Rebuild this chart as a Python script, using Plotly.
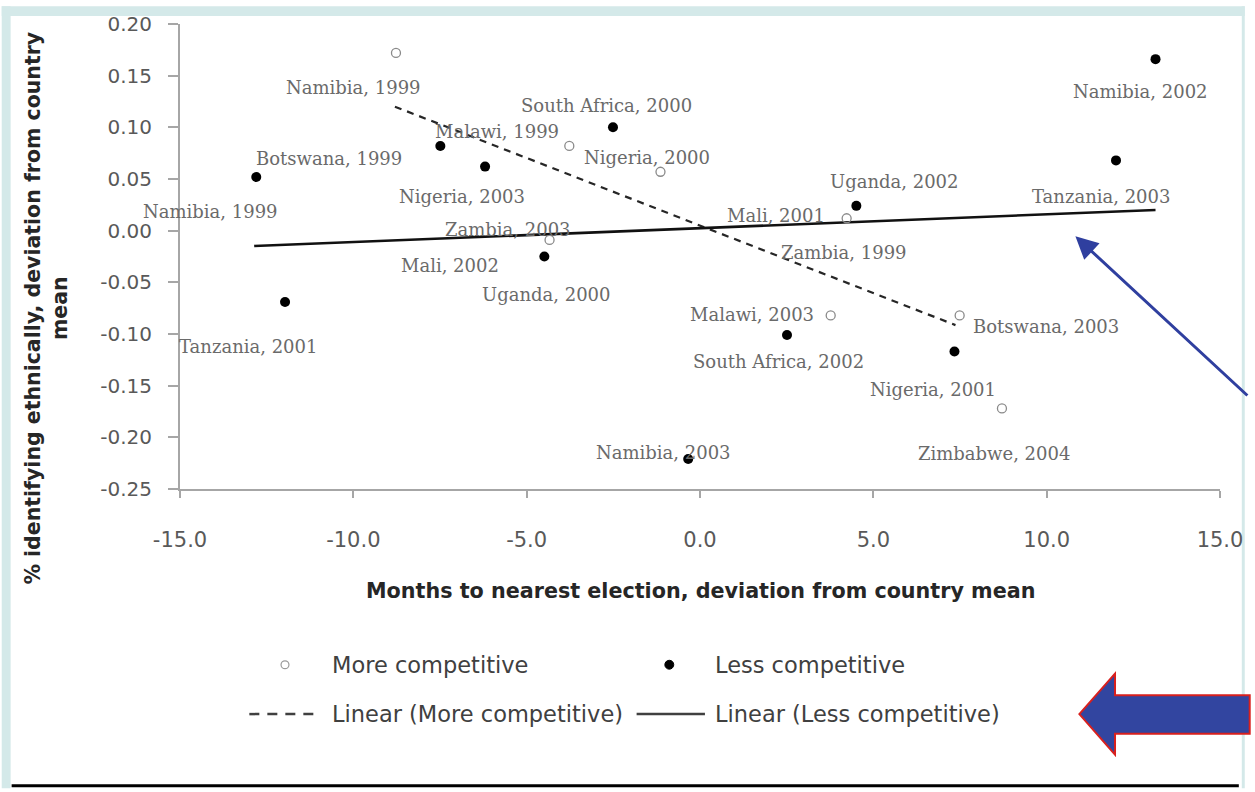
import plotly.graph_objects as go

# ---------------- data ----------------
more_x = [-8.77, -3.77, -1.14, -4.34, 4.23, 3.77, 7.49, 8.71]
more_y = [0.172, 0.082, 0.057, -0.009, 0.012, -0.082, -0.082, -0.172]

less_x = [-12.8, -11.97, -7.49, -6.2, -2.51, -4.49, 4.51, 13.14, 12.0, 2.51, 7.34, -0.34]
less_y = [0.052, -0.069, 0.082, 0.062, 0.100, -0.025, 0.024, 0.166, 0.068, -0.101, -0.117, -0.221]

trend_more_x = [-8.8, 7.37]
trend_more_y = [0.120, -0.0914]
trend_less_x = [-12.86, 13.14]
trend_less_y = [-0.0148, 0.020]

label_text = ["Namibia, 1999", "South Africa, 2000", "Malawi, 1999", "Botswana, 1999",
              "Nigeria, 2000", "Nigeria, 2003", "Namibia, 1999", "Zambia, 2003",
              "Mali, 2002", "Uganda, 2000", "Tanzania, 2001", "Namibia, 2002",
              "Uganda, 2002", "Tanzania, 2003", "Mali, 2001", "Zambia, 1999",
              "Malawi, 2003", "Botswana, 2003", "South Africa, 2002", "Nigeria, 2001",
              "Zimbabwe, 2004", "Namibia, 2003"]
label_x = [-10.0, -2.71, -5.86, -10.69, -1.54, -6.86, -14.11, -5.54, -7.2, -4.43, -13.03,
           12.71, 5.6, 11.57, 2.2, 4.14, 1.49, 9.97, 2.26, 6.71, 8.49, -1.06]
label_y = [0.139, 0.121, 0.096, 0.070, 0.071, 0.033, 0.019, 0.0014, -0.034, -0.062, -0.112,
           0.135, 0.048, 0.033, 0.0148, -0.0215, -0.081, -0.093, -0.127, -0.154, -0.216, -0.215]

x_ticks = [-15, -10, -5, 0, 5, 10, 15]
x_ticktext = ["-15.0", "-10.0", "-5.0", "0.0", "5.0", "10.0", "15.0"]
y_ticks = [0.20, 0.15, 0.10, 0.05, 0.00, -0.05, -0.10, -0.15, -0.20, -0.25]
y_ticktext = ["0.20", "0.15", "0.10", "0.05", "0.00", "-0.05", "-0.10", "-0.15", "-0.20", "-0.25"]

legend_names = ["More competitive", "Less competitive",
                "Linear (More competitive)", "Linear (Less competitive)"]

# ---------------- layout geometry ----------------
W, H = 1255, 792
ML, MR, MT, MB = 180, 25, 18, 303
PW, PH = W - ML - MR, H - MT - MB


def px(x):
    return (x - ML) / PW


def py(y):
    return (H - MB - y) / PH


TEAL = "#d4e9e9"
AXIS = "#a6a6a6"

fig = go.Figure()

fig.add_trace(go.Scatter(x=trend_more_x, y=trend_more_y, mode="lines", name=legend_names[2],
                         line=dict(color="#262626", width=2.2, dash="7px,6px"), showlegend=False))
fig.add_trace(go.Scatter(x=trend_less_x, y=trend_less_y, mode="lines", name=legend_names[3],
                         line=dict(color="#111111", width=2.6), showlegend=False))
fig.add_trace(go.Scatter(x=more_x, y=more_y, mode="markers", name=legend_names[0],
                         marker=dict(symbol="circle-open", size=9, color="#8a8a8a",
                                     line=dict(width=1.3, color="#8a8a8a")), showlegend=False))
fig.add_trace(go.Scatter(x=less_x, y=less_y, mode="markers", name=legend_names[1],
                         marker=dict(symbol="circle", size=10, color="#000000"), showlegend=False))

annotations = []
for t, lx, ly in zip(label_text, label_x, label_y):
    annotations.append(dict(x=lx, y=ly, xref="x", yref="y", text=t, showarrow=False,
                            font=dict(family="DejaVu Serif", size=18, color="#6a6a6a"),
                            xanchor="center", yanchor="middle"))

# axis titles
annotations.append(dict(x=px(706), y=py(592), xref="paper", yref="paper",
                        text="<b>Months to nearest election, deviation from country mean</b>",
                        showarrow=False, font=dict(family="DejaVu Sans", size=20.7, color="#262626"),
                        xanchor="center", yanchor="middle"))
annotations.append(dict(x=px(45), y=py(306), xref="paper", yref="paper",
                        text="<b>% identifying ethnically, deviation from country<br>mean</b>",
                        showarrow=False, textangle=-90,
                        font=dict(family="DejaVu Sans", size=20.5, color="#262626"),
                        xanchor="center", yanchor="middle"))

# legend texts
leg_font = dict(family="DejaVu Sans", size=22.5, color="#404040")
for name, lx, ly in [(legend_names[0], 331, 667), (legend_names[1], 718, 667),
                     (legend_names[2], 331, 717), (legend_names[3], 718, 717)]:
    annotations.append(dict(x=px(lx), y=py(ly), xref="paper", yref="paper", text=name,
                            showarrow=False, font=leg_font, xanchor="left", yanchor="middle"))

# blue pointer arrow
annotations.append(dict(x=px(1084), y=py(233), xref="paper", yref="paper", text=" ",
                        showarrow=True, ax=175, ay=162, arrowhead=2, arrowsize=1.5,
                        arrowwidth=3, arrowcolor="#2f3f9f", standoff=0, startstandoff=0))

shapes = [
    # teal border strips
    dict(type="rect", xref="paper", yref="paper", x0=px(0), x1=px(9), y0=py(0), y1=py(H),
         fillcolor=TEAL, line_width=0, layer="below"),
    dict(type="rect", xref="paper", yref="paper", x0=px(0), x1=px(W), y0=py(0), y1=py(10),
         fillcolor=TEAL, line_width=0, layer="below"),
    dict(type="rect", xref="paper", yref="paper", x0=px(1252), x1=px(W), y0=py(0), y1=py(H),
         fillcolor=TEAL, line_width=0, layer="below"),
    # bottom black rule
    dict(type="line", xref="paper", yref="paper", x0=px(10), x1=px(1249), y0=py(789.5), y1=py(789.5),
         line=dict(color="#000000", width=3)),
    # legend symbols
    dict(type="circle", xref="paper", yref="paper", x0=px(282), x1=px(290), y0=py(663), y1=py(671),
         line=dict(color="#9a9a9a", width=1.2)),
    dict(type="circle", xref="paper", yref="paper", x0=px(669.5), x1=px(678.5), y0=py(662.5),
         y1=py(671.5), fillcolor="#000000", line=dict(color="#000000", width=1)),
    dict(type="line", xref="paper", yref="paper", x0=px(250), x1=px(318), y0=py(717), y1=py(717),
         line=dict(color="#404040", width=2.5, dash="10px,8px")),
    dict(type="line", xref="paper", yref="paper", x0=px(641), x1=px(710), y0=py(717), y1=py(717),
         line=dict(color="#404040", width=2.5)),
]

# big block arrow
pts = [(1088, 717), (1124, 676), (1124, 698), (1260, 698), (1260, 737), (1124, 737), (1124, 758)]
path = "M " + " L ".join(f"{px(a):.5f},{py(b):.5f}" for a, b in pts) + " Z"
shapes.append(dict(type="path", xref="paper", yref="paper", path=path,
                   fillcolor="#3245a0", line=dict(color="#d8201e", width=2)))

fig.update_layout(
    width=W, height=H,
    margin=dict(l=ML, r=MR, t=MT, b=MB, pad=0),
    paper_bgcolor="#ffffff", plot_bgcolor="#ffffff",
    showlegend=False,
    annotations=annotations,
    shapes=shapes,
    xaxis=dict(range=[-15, 15], tickvals=x_ticks, ticktext=x_ticktext, showgrid=False,
               zeroline=False, showline=True, linecolor=AXIS, linewidth=2,
               ticks="outside", ticklen=7, tickwidth=1.5, tickcolor=AXIS,
               tickfont=dict(family="DejaVu Sans", size=21, color="#595959"),
               ticklabelstandoff=24),
    yaxis=dict(range=[-0.25, 0.20], tickvals=y_ticks, ticktext=y_ticktext, showgrid=False,
               zeroline=False, showline=True, linecolor=AXIS, linewidth=2,
               ticks="outside", ticklen=10, tickwidth=1.5, tickcolor=AXIS,
               tickfont=dict(family="DejaVu Sans", size=20, color="#595959"),
               ticklabelstandoff=12),
)

fig.write_html("out.html", config={"displayModeBar": False},
               post_script="document.body.style.margin='0';document.body.style.padding='0';"
                           "document.body.style.overflow='hidden';")
